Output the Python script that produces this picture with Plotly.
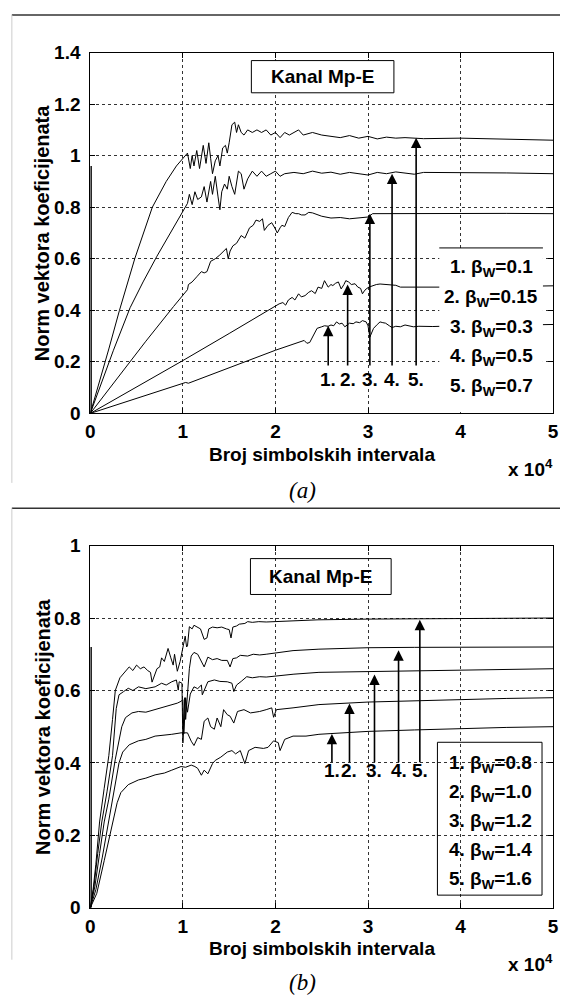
import plotly.graph_objects as go

W, H = 566, 1004

# ---------------- data (x in units of 10^4 symbol intervals) ----------------
x_tick_vals = [0, 1, 2, 3, 4, 5]
x_tick_text = ["0", "1", "2", "3", "4", "5"]
ya_ticks = [0, 0.2, 0.4, 0.6, 0.8, 1.0, 1.2, 1.4]
yb_ticks = [0, 0.2, 0.4, 0.6, 0.8, 1.0]

# panel (a)
a_beta = ["0.1", "0.15", "0.3", "0.5", "0.7"]
a1_x = [0, 0.5, 1.0, 1.03, 1.06, 1.5, 2.0, 2.31, 2.34, 2.37, 2.40, 2.45, 2.5, 2.53, 2.57, 2.6, 2.63, 2.66,
        2.69, 2.72, 2.75, 2.8, 2.84, 2.87, 2.91, 2.94, 2.98, 3.0, 3.02, 3.04, 3.06, 3.1, 3.13, 3.16, 3.19,
        3.23, 3.26, 3.3, 3.35, 3.4, 3.45, 3.49, 3.55, 3.63, 3.7, 3.8, 4.0, 4.5, 5.0]
a1_y = [0, 0.058, 0.117, 0.12, 0.117, 0.178, 0.245, 0.283, 0.272, 0.275, 0.298, 0.33, 0.336, 0.34, 0.338,
        0.343, 0.34, 0.355, 0.347, 0.35, 0.336, 0.35, 0.348, 0.355, 0.352, 0.36, 0.355, 0.34, 0.296, 0.31,
        0.33, 0.345, 0.355, 0.352, 0.35, 0.34, 0.333, 0.338, 0.336, 0.343, 0.338, 0.336, 0.338, 0.336,
        0.337, 0.338, 0.34, 0.342, 0.345]
a2_x = [0, 0.5, 1.0, 1.5, 2.04, 2.08, 2.11, 2.14, 2.18, 2.21, 2.25, 2.28, 2.32, 2.36, 2.39, 2.43, 2.46, 2.5,
        2.53, 2.57, 2.6, 2.62, 2.65, 2.68, 2.71, 2.74, 2.76, 2.79, 2.82, 2.86, 2.89, 2.92, 2.94, 2.96, 2.98,
        3.01, 3.05, 3.09, 3.13, 3.18, 3.24, 3.3, 3.35, 3.45, 3.52, 3.62, 3.73, 4.0, 4.5, 5.0]
a2_y = [0, 0.102, 0.205, 0.31, 0.425, 0.43, 0.42, 0.44, 0.45, 0.44, 0.464, 0.452, 0.457, 0.47, 0.476, 0.465,
        0.49, 0.485, 0.515, 0.49, 0.5, 0.496, 0.505, 0.51, 0.483, 0.5, 0.515, 0.51, 0.5, 0.503, 0.49, 0.485,
        0.464, 0.475, 0.483, 0.49, 0.496, 0.5, 0.502, 0.5, 0.5, 0.497, 0.49, 0.49, 0.489, 0.489, 0.489,
        0.49, 0.492, 0.495]
a3_x = [0, 0.3, 0.6, 0.9, 1.05, 1.06, 1.1, 1.15, 1.2, 1.23, 1.26, 1.3, 1.35, 1.4, 1.44, 1.47, 1.49, 1.51,
        1.54, 1.58, 1.63, 1.67, 1.72, 1.76, 1.79, 1.83, 1.86, 1.88, 1.92, 1.96, 2.0, 2.02, 2.05, 2.07, 2.1,
        2.14, 2.18, 2.22, 2.25, 2.28, 2.32, 2.36, 2.4, 2.45, 2.5, 2.6, 2.7, 2.8, 2.9, 3.0, 3.05, 3.5, 4.0,
        4.5, 5.0]
a3_y = [0, 0.14, 0.28, 0.415, 0.48, 0.5, 0.51, 0.53, 0.55, 0.545, 0.55, 0.59, 0.6, 0.615, 0.63, 0.64, 0.6,
        0.63, 0.65, 0.66, 0.69, 0.68, 0.72, 0.73, 0.75, 0.745, 0.755, 0.71, 0.73, 0.74, 0.715, 0.7, 0.72,
        0.73, 0.725, 0.76, 0.78, 0.775, 0.775, 0.77, 0.77, 0.78, 0.778, 0.77, 0.765, 0.758, 0.76, 0.755,
        0.758, 0.762, 0.775, 0.776, 0.776, 0.776, 0.775]
a4_x = [0, 0.1, 0.25, 0.43, 0.57, 0.72, 0.88, 1.03, 1.05, 1.07, 1.1, 1.13, 1.16, 1.2, 1.23, 1.26, 1.3, 1.32,
        1.35, 1.38, 1.4, 1.42, 1.45, 1.48, 1.5, 1.53, 1.56, 1.6, 1.63, 1.66, 1.7, 1.75, 1.8, 1.85, 1.9,
        1.95, 2.0, 2.05, 2.1, 2.2, 2.3, 2.4, 2.5, 2.6, 2.7, 2.8, 2.9, 3.0, 3.1, 3.2, 3.3, 3.4, 3.5, 3.6,
        4.0, 4.5, 5.0]
a4_y = [0, 0.1, 0.245, 0.41, 0.51, 0.61, 0.71, 0.8, 0.815, 0.85, 0.81, 0.86, 0.83, 0.84, 0.88, 0.82, 0.9,
        0.85, 0.92, 0.84, 0.79, 0.86, 0.89, 0.87, 0.92, 0.88, 0.85, 0.94, 0.93, 0.87, 0.91, 0.94, 0.92,
        0.94, 0.92, 0.93, 0.94, 0.92, 0.93, 0.935, 0.93, 0.94, 0.932, 0.936, 0.928, 0.935, 0.93, 0.925,
        0.935, 0.93, 0.937, 0.932, 0.928, 0.935, 0.935, 0.933, 0.93]
a5_x = [0, 0.1, 0.2, 0.315, 0.48, 0.67, 0.82, 0.93, 1.03, 1.05, 1.08, 1.1, 1.12, 1.15, 1.18, 1.22, 1.25,
        1.28, 1.3, 1.32, 1.35, 1.38, 1.4, 1.43, 1.46, 1.48, 1.5, 1.53, 1.56, 1.58, 1.6, 1.63, 1.66, 1.7,
        1.75, 1.8, 1.85, 1.9, 1.95, 2.0, 2.05, 2.1, 2.15, 2.2, 2.25, 2.3, 2.4, 2.5, 2.6, 2.7, 2.8, 2.9,
        3.0, 3.1, 3.2, 3.3, 3.4, 3.6, 4.0, 4.5, 5.0]
a5_y = [0, 0.12, 0.25, 0.4, 0.6, 0.8, 0.9, 0.96, 1.0, 1.01, 0.95, 1.0, 0.96, 1.02, 0.95, 1.04, 0.97, 1.05,
        0.99, 0.93, 0.98, 1.0, 0.96, 1.03, 1.04, 1.01, 1.05, 1.12, 1.13, 1.09, 1.12, 1.09, 1.08, 1.1, 1.09,
        1.1, 1.09, 1.1, 1.08, 1.09, 1.07, 1.09, 1.08, 1.09, 1.1, 1.08, 1.09, 1.08, 1.075, 1.07, 1.078,
        1.068, 1.075, 1.065, 1.072, 1.068, 1.07, 1.066, 1.068, 1.064, 1.06]
a_spike_x = [0.008, 0.008]
a_spike_y = [0, 0.96]

# arrows of panel (a): x position, tip value
a_arrow_x = [2.57, 2.78, 3.02, 3.26, 3.52]
a_arrow_tip = [0.34, 0.5, 0.775, 0.93, 1.07]

# panel (b)
b_beta = ["0.8", "1.0", "1.2", "1.4", "1.6"]
b1_x = [0, 0.07, 0.15, 0.24, 0.27, 0.29, 0.33, 0.41, 0.52, 0.6, 0.7, 0.8, 0.88, 0.98, 1.03, 1.09, 1.13,
        1.16, 1.2, 1.23, 1.27, 1.3, 1.32, 1.35, 1.41, 1.48, 1.53, 1.57, 1.62, 1.67, 1.71, 1.78, 1.87, 1.92,
        1.98, 2.03, 2.05, 2.1, 2.19, 2.33, 2.47, 2.6, 3.0, 3.5, 4.0, 4.5, 5.0]
b1_y = [0, 0.04, 0.13, 0.237, 0.27, 0.29, 0.318, 0.34, 0.353, 0.358, 0.367, 0.372, 0.38, 0.39, 0.388,
        0.394, 0.39, 0.385, 0.366, 0.38, 0.37, 0.385, 0.398, 0.407, 0.416, 0.43, 0.434, 0.425, 0.434, 0.398,
        0.434, 0.443, 0.44, 0.443, 0.461, 0.456, 0.434, 0.465, 0.474, 0.474, 0.479, 0.481, 0.487, 0.491,
        0.495, 0.498, 0.5]
b2_x = [0, 0.06, 0.13, 0.2, 0.26, 0.31, 0.35, 0.42, 0.52, 0.6, 0.7, 0.8, 0.88, 0.98, 1.05, 1.09, 1.12,
        1.16, 1.2, 1.23, 1.27, 1.3, 1.34, 1.37, 1.41, 1.44, 1.48, 1.51, 1.55, 1.59, 1.66, 1.73, 1.83, 1.9,
        1.96, 1.98, 2.01, 2.19, 2.47, 3.0, 3.5, 4.0, 4.5, 5.0]
b2_y = [0, 0.05, 0.14, 0.237, 0.33, 0.4, 0.43, 0.45, 0.461, 0.465, 0.474, 0.476, 0.479, 0.483, 0.483,
        0.46, 0.448, 0.47, 0.465, 0.515, 0.524, 0.5, 0.493, 0.524, 0.5, 0.547, 0.533, 0.529, 0.51, 0.542,
        0.547, 0.538, 0.542, 0.547, 0.552, 0.526, 0.547, 0.552, 0.561, 0.568, 0.572, 0.575, 0.578, 0.58]
b3_x = [0, 0.05, 0.1, 0.15, 0.2, 0.27, 0.34, 0.38, 0.45, 0.52, 0.6, 0.7, 0.8, 0.88, 0.94, 0.98, 1.0, 1.01,
        1.02, 1.03, 1.05, 1.08, 1.12, 1.16, 1.2, 1.21, 1.23, 1.27, 1.34, 1.4, 1.48, 1.53, 1.55, 1.58, 1.63,
        1.69, 1.75, 1.83, 1.9, 2.01, 2.2, 2.47, 3.0, 3.5, 4.0, 4.5, 5.0]
b3_y = [0, 0.06, 0.15, 0.237, 0.3, 0.41, 0.5, 0.525, 0.538, 0.542, 0.54, 0.547, 0.555, 0.561, 0.565, 0.57,
        0.575, 0.48, 0.55, 0.58, 0.54, 0.59, 0.61, 0.605, 0.615, 0.588, 0.6, 0.624, 0.629, 0.625, 0.624,
        0.62, 0.597, 0.615, 0.625, 0.638, 0.635, 0.638, 0.637, 0.64, 0.645, 0.65, 0.652, 0.654, 0.656,
        0.658, 0.66]
b4_x = [0, 0.04, 0.08, 0.124, 0.18, 0.24, 0.28, 0.31, 0.36, 0.41, 0.46, 0.52, 0.6, 0.7, 0.77, 0.82, 0.88,
        0.93, 0.95, 0.96, 0.99, 1.0, 1.01, 1.02, 1.03, 1.05, 1.07, 1.09, 1.12, 1.16, 1.2, 1.23, 1.27, 1.32,
        1.37, 1.42, 1.48, 1.51, 1.54, 1.58, 1.62, 1.7, 1.76, 1.83, 1.9, 2.0, 2.19, 2.47, 3.0, 3.5, 4.0,
        4.5, 5.0]
b4_y = [0, 0.06, 0.15, 0.237, 0.32, 0.42, 0.55, 0.588, 0.597, 0.606, 0.6, 0.61, 0.605, 0.61, 0.62, 0.615,
        0.624, 0.629, 0.601, 0.624, 0.62, 0.455, 0.5, 0.58, 0.52, 0.6, 0.66, 0.695, 0.705, 0.7, 0.68,
        0.665, 0.692, 0.685, 0.688, 0.683, 0.683, 0.665, 0.688, 0.69, 0.697, 0.695, 0.7, 0.698, 0.7,
        0.703, 0.71, 0.714, 0.718, 0.719, 0.72, 0.72, 0.72]
b5_x = [0, 0.03, 0.06, 0.1, 0.15, 0.2, 0.24, 0.27, 0.32, 0.37, 0.42, 0.46, 0.5, 0.54, 0.58, 0.62, 0.65,
        0.667, 0.7, 0.72, 0.75, 0.77, 0.8, 0.84, 0.87, 0.895, 0.91, 0.94, 0.97, 1.0, 1.025, 1.04, 1.05,
        1.07, 1.1, 1.12, 1.15, 1.19, 1.23, 1.26, 1.28, 1.32, 1.37, 1.42, 1.47, 1.5, 1.52, 1.54, 1.58,
        1.61, 1.67, 1.7, 1.75, 1.82, 1.9, 2.0, 2.2, 2.46, 3.0, 3.5, 4.0, 4.5, 5.0]
b5_y = [0, 0.05, 0.12, 0.237, 0.33, 0.42, 0.52, 0.6, 0.635, 0.65, 0.665, 0.655, 0.67, 0.66, 0.665, 0.655,
        0.65, 0.623, 0.645, 0.66, 0.665, 0.69, 0.68, 0.716, 0.69, 0.67, 0.7, 0.653, 0.68, 0.719, 0.75, 0.72,
        0.723, 0.776, 0.77, 0.78, 0.775, 0.77, 0.741, 0.745, 0.77, 0.775, 0.773, 0.775, 0.77, 0.768, 0.745,
        0.775, 0.778, 0.783, 0.785, 0.79, 0.788, 0.79, 0.789, 0.79, 0.792, 0.795, 0.797, 0.798, 0.8, 0.8,
        0.8]
b_spike_x = [0.008, 0.008]
b_spike_y = [0, 0.72]

b_arrow_x = [2.61, 2.80, 3.07, 3.33, 3.56]
b_arrow_tip = [0.48, 0.564, 0.644, 0.711, 0.795]

# ---------------- layout helpers ----------------
FONT = "Liberation Sans"
SERIF = "Liberation Serif"
def px_x(p):
    return p / W
def px_y(p):
    return 1 - p / H

AX_L, AX_R = 87, 559
A_TOP, A_BOT = 43.5, 412
B_TOP, B_BOT = 547, 917

fig = go.Figure()

line_style = dict(color="black", width=1)
for xs, ys in [(a1_x, a1_y), (a2_x, a2_y), (a3_x, a3_y), (a4_x, a4_y), (a5_x, a5_y)]:
    fig.add_trace(go.Scatter(x=xs, y=ys, mode="lines", line=line_style, xaxis="x", yaxis="y",
                             showlegend=False, hoverinfo="skip"))
fig.add_trace(go.Scatter(x=a_spike_x, y=a_spike_y, mode="lines", line=dict(color="black", width=1.6),
                         xaxis="x", yaxis="y", showlegend=False, hoverinfo="skip"))
for xs, ys in [(b1_x, b1_y), (b2_x, b2_y), (b3_x, b3_y), (b4_x, b4_y), (b5_x, b5_y)]:
    fig.add_trace(go.Scatter(x=xs, y=ys, mode="lines", line=line_style, xaxis="x2", yaxis="y2",
                             showlegend=False, hoverinfo="skip"))
fig.add_trace(go.Scatter(x=b_spike_x, y=b_spike_y, mode="lines", line=dict(color="black", width=1.6),
                         xaxis="x2", yaxis="y2", showlegend=False, hoverinfo="skip"))

tickfont = dict(family=FONT, size=19, color="black", weight="bold")
common_axis = dict(showline=True, linecolor="black", linewidth=1, mirror="allticks", ticks="inside",
                   ticklen=5, tickcolor="black", tickwidth=1, showgrid=True, gridcolor="#333333",
                   griddash="dot", gridwidth=1, zeroline=False, tickfont=tickfont, fixedrange=True)
xdom = [px_x(AX_L), px_x(AX_R)]
fig.update_layout(
    width=W, height=H, margin=dict(l=0, r=0, t=0, b=0),
    paper_bgcolor="white", plot_bgcolor="white", showlegend=False,
    xaxis=dict(domain=xdom, range=[0, 5], tickvals=x_tick_vals, ticktext=x_tick_text,
               anchor="y", ticklabelstandoff=1, **common_axis),
    yaxis=dict(domain=[px_y(A_BOT), px_y(A_TOP)], range=[0, 1.4], tickvals=ya_ticks,
               anchor="x", ticklabelstandoff=5, **common_axis),
    xaxis2=dict(domain=xdom, range=[0, 5], tickvals=x_tick_vals, ticktext=x_tick_text,
                anchor="y2", ticklabelstandoff=1, **common_axis),
    yaxis2=dict(domain=[px_y(B_BOT), px_y(B_TOP)], range=[0, 1.0], tickvals=yb_ticks,
                anchor="x2", ticklabelstandoff=5, **common_axis),
)

shapes = []
ann = []
txt = dict(family=FONT, size=19, color="black", weight="bold")

def note(**kw):
    d = dict(showarrow=False, xanchor="center", yanchor="middle")
    d.update(kw)
    ann.append(d)

# title boxes
shapes.append(dict(type="rect", xref="x", yref="y", x0=1.74, x1=3.28, y0=1.244, y1=1.369,
                   line=dict(color="black", width=1), fillcolor="white", layer="above"))
note(xref="x", yref="y", x=2.51, y=1.3065, text="Kanal Mp-E", font=txt)
shapes.append(dict(type="rect", xref="x2", yref="y2", x0=1.73, x1=3.25, y0=0.865, y1=0.964,
                   line=dict(color="black", width=1), fillcolor="rgba(0,0,0,0)", layer="above"))
note(xref="x2", yref="y2", x=2.49, y=0.9145, text="Kanal Mp-E", font=txt)

# legend (a): white area with top line
shapes.append(dict(type="rect", xref="x", yref="y", x0=3.77, x1=4.89, y0=0.004, y1=0.642,
                   line=dict(width=0), fillcolor="white", layer="above"))
shapes.append(dict(type="line", xref="x", yref="y", x0=3.77, x1=4.89, y0=0.642, y1=0.642,
                   line=dict(color="black", width=1), layer="above"))
a_leg_y = [0.563, 0.448, 0.333, 0.218, 0.103]
for i, b in enumerate(a_beta):
    note(xref="x", yref="y", x=4.33, y=a_leg_y[i], text=f"{i+1}. β<sub>W</sub>={b}", font=txt)
# legend (b): bordered box
shapes.append(dict(type="rect", xref="x2", yref="y2", x0=3.75, x1=4.88, y0=0.035, y1=0.457,
                   line=dict(color="black", width=1), fillcolor="rgba(0,0,0,0)", layer="above"))
b_leg_y = [0.397, 0.317, 0.237, 0.157, 0.077]
for i, b in enumerate(b_beta):
    note(xref="x2", yref="y2", x=4.32, y=b_leg_y[i], text=f"{i+1}. β<sub>W</sub>={b}", font=txt)

# arrows + numbers
for xr, yr, axs, tips, base, lab in [("x", "y", a_arrow_x, a_arrow_tip, 0.18, 0.133),
                                     ("x2", "y2", b_arrow_x, b_arrow_tip, 0.398, 0.378)]:
    for i, (xa, tip) in enumerate(zip(axs, tips)):
        ann.append(dict(xref=xr, yref=yr, axref=xr, ayref=yr, x=xa, y=tip, ax=xa, ay=base, text="",
                        showarrow=True, arrowhead=2, arrowsize=1.3, arrowwidth=1.6, arrowcolor="black",
                        standoff=0, startstandoff=0))
        note(xref=xr, yref=yr, x=xa, y=lab, text=f"{i+1}.", font=txt)

# axis titles, exponent labels, captions
for top, bot, cap in [(A_TOP, A_BOT, "(a)"), (B_TOP, B_BOT, "(b)")]:
    note(xref="paper", yref="paper", x=px_x(323), y=px_y(bot + 42),
         text="Broj simbolskih intervala", font=txt)
    note(xref="paper", yref="paper", x=px_x(561), y=px_y(bot + 56), xanchor="right",
         text="x 10<sup>4</sup>", font=txt)
    note(xref="paper", yref="paper", x=px_x(38), y=px_y((top + bot) / 2), textangle=-90,
         text="Norm vektora koeficijenata",
         font=dict(family=FONT, size=20, color="black", weight="bold"))
    note(xref="paper", yref="paper", x=px_x(303), y=px_y(min(bot + 79, 993)), text=cap,
         font=dict(family=SERIF, size=23, color="black", style="italic"))

# page separators / frame lines
shapes.append(dict(type="line", xref="paper", yref="paper", x0=px_x(7), x1=1, y0=px_y(5), y1=px_y(5),
                   line=dict(color="#333333", width=1.5)))
shapes.append(dict(type="line", xref="paper", yref="paper", x0=px_x(7), x1=1, y0=px_y(509), y1=px_y(509),
                   line=dict(color="#333333", width=1.5)))
shapes.append(dict(type="line", xref="paper", yref="paper", x0=px_x(7), x1=px_x(7), y0=px_y(5), y1=px_y(483),
                   line=dict(color="#cccccc", width=1)))
shapes.append(dict(type="line", xref="paper", yref="paper", x0=px_x(7), x1=px_x(7), y0=px_y(509), y1=px_y(970),
                   line=dict(color="#cccccc", width=1)))

fig.update_layout(shapes=shapes, annotations=ann)
fig.write_html("out.html")
